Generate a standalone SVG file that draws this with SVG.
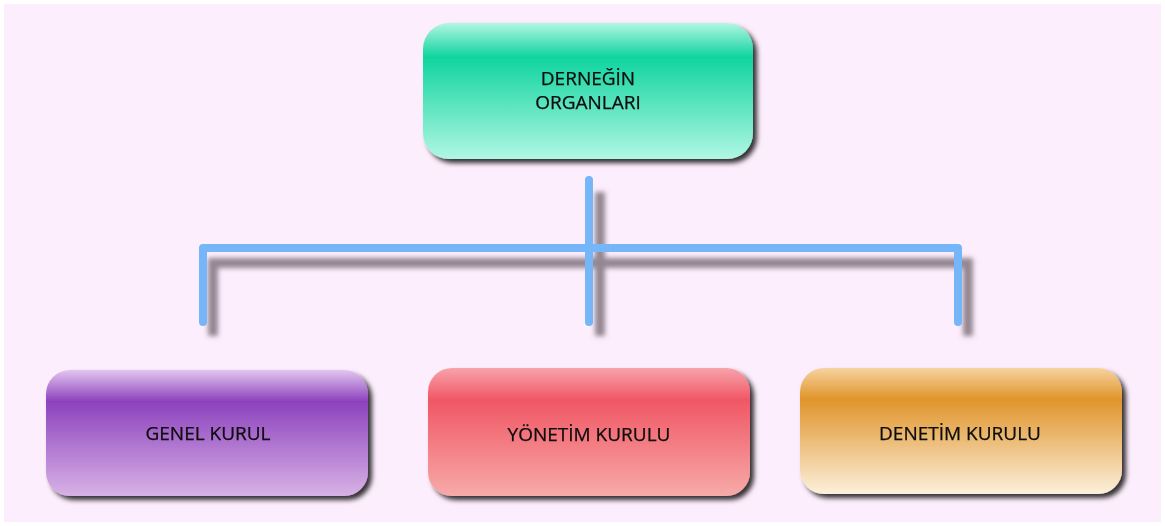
<svg xmlns="http://www.w3.org/2000/svg" width="1165" height="526" viewBox="0 0 1165 526">
<style>
.lbl{font-family:"Open Sans","Liberation Sans",sans-serif;font-size:19px;fill:#0a0a0a;text-anchor:middle;stroke:#0a0a0a;stroke-width:0.25}
.conn{fill:none;stroke:#74b6f8;stroke-width:8;stroke-linecap:round;stroke-linejoin:round}
.connsh{fill:none;stroke:#5a4e58;stroke-opacity:0.65;stroke-width:10;filter:url(#blur)}
</style>
<defs>
<filter id="blur" x="-10%" y="-10%" width="120%" height="130%"><feGaussianBlur stdDeviation="2.5"/></filter>
<filter id="nsh" x="-10%" y="-10%" width="125%" height="130%">
<feGaussianBlur in="SourceAlpha" stdDeviation="2.5"/>
<feOffset dx="4" dy="4" result="b"/>
<feFlood flood-color="#000" flood-opacity="0.8"/>
<feComposite in2="b" operator="in"/>
<feMerge><feMergeNode/><feMergeNode in="SourceGraphic"/></feMerge>
</filter>
<linearGradient id="gTop" x1="0" y1="0" x2="0" y2="1">
<stop offset="0" stop-color="#b3f6e2"/><stop offset="0.25" stop-color="#10d49f"/><stop offset="1" stop-color="#b0f7e3"/>
</linearGradient>
<linearGradient id="gPur" x1="0" y1="0" x2="0" y2="1">
<stop offset="0" stop-color="#e2c6ef"/><stop offset="0.25" stop-color="#8d42bd"/><stop offset="1" stop-color="#d8b2e6"/>
</linearGradient>
<linearGradient id="gRed" x1="0" y1="0" x2="0" y2="1">
<stop offset="0" stop-color="#f8a3ab"/><stop offset="0.25" stop-color="#f05764"/><stop offset="1" stop-color="#f7aaa9"/>
</linearGradient>
<linearGradient id="gOra" x1="0" y1="0" x2="0" y2="1">
<stop offset="0" stop-color="#f6d3a0"/><stop offset="0.25" stop-color="#e0942a"/><stop offset="1" stop-color="#fcf0dc"/>
</linearGradient>
</defs>
<rect x="0" y="0" width="1165" height="526" fill="#ffffff"/>
<rect x="4" y="4" width="1157" height="518" fill="#fdeefd"/>
<g id="connectors">
<path class="connsh" d="M600,192 V336 M213,336 V263 H968 V336"/>
<path class="conn" d="M589,180 V322 M203,322 V248 H958 V322"/>
</g>
<g id="node-root" filter="url(#nsh)">
<rect x="423" y="23" width="330" height="136" rx="26" fill="url(#gTop)"/>
<text class="lbl" x="588" y="85">DERNEĞİN</text>
<text class="lbl" x="588" y="109">ORGANLARI</text>
</g>
<g id="node-genel" filter="url(#nsh)">
<rect x="46" y="370" width="322" height="126" rx="24" fill="url(#gPur)"/>
<text class="lbl" x="208" y="440">GENEL KURUL</text>
</g>
<g id="node-yonetim" filter="url(#nsh)">
<rect x="428" y="368" width="322" height="128" rx="24" fill="url(#gRed)"/>
<text class="lbl" x="589" y="441">YÖNETİM KURULU</text>
</g>
<g id="node-denetim" filter="url(#nsh)">
<rect x="800" y="368" width="322" height="126" rx="24" fill="url(#gOra)"/>
<text class="lbl" x="960" y="440">DENETİM KURULU</text>
</g>
</svg>
